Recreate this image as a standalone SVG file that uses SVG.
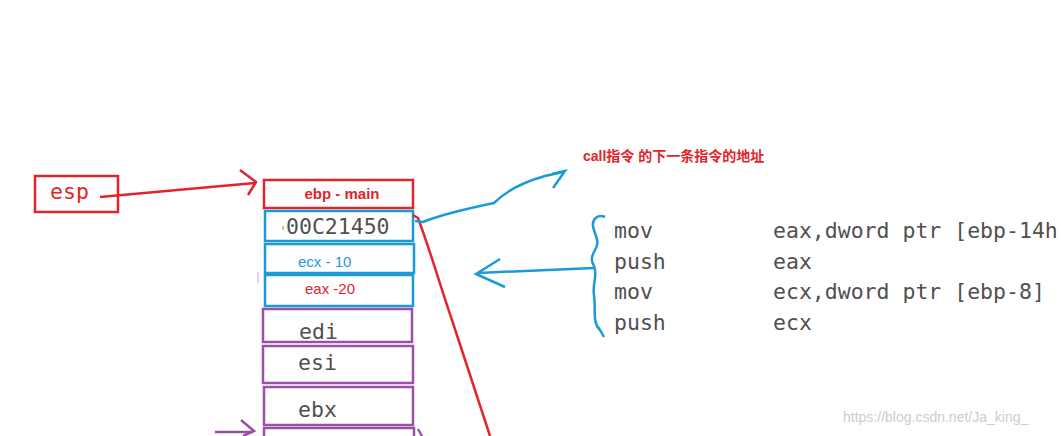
<svg xmlns="http://www.w3.org/2000/svg" width="1061" height="436" viewBox="0 0 1061 436">
<style>
.red{fill:none;stroke:#e3242b;stroke-width:2.5}
.blue{fill:none;stroke:#1b9ad8;stroke-width:2.5}
.pur{fill:none;stroke:#9a4fa9;stroke-width:2.5}
.mono{font-family:"DejaVu Sans Mono","Liberation Mono",monospace;font-size:21.5px;fill:#505050}
.sans{font-family:"Liberation Sans","Noto Sans CJK SC",sans-serif;font-size:15px}
</style>
<rect width="1061" height="436" fill="#ffffff"/>
<g id="esp">
<rect class="red" x="35" y="176" width="83" height="36"/>
<text class="mono" x="50" y="199" style="fill:#e3242b">esp</text>
</g>
<g id="ebp-main">
<rect class="red" x="264" y="180" width="149" height="28"/>
<text class="sans" x="342" y="199" text-anchor="middle" style="fill:#e3242b;font-weight:bold">ebp - main</text>
</g>
<g id="ret-addr">
<rect class="blue" x="265" y="211" width="148" height="30"/>
<text class="mono" x="286" y="234">00C21450</text>
<line x1="283" y1="226" x2="283" y2="230" stroke="#888" stroke-width="1"/>
</g>
<g id="ecx">
<rect class="blue" x="265" y="244" width="149" height="29"/>
<text class="sans" x="298" y="267" style="fill:#1b9ad8">ecx - 10</text>
</g>
<g id="eax">
<rect class="blue" x="265" y="275" width="148" height="31"/>
<text class="sans" x="305" y="294" style="fill:#e3242b">eax -20</text>
</g>
<g id="edi">
<rect class="pur" x="263" y="309" width="149" height="33"/>
<text class="mono" x="299" y="339">edi</text>
</g>
<g id="esi">
<rect class="pur" x="263" y="346" width="150" height="37"/>
<text class="mono" x="298" y="370">esi</text>
</g>
<g id="ebx">
<rect class="pur" x="264" y="387" width="149" height="38"/>
<text class="mono" x="298" y="417">ebx</text>
</g>
<g id="next">
<rect class="pur" x="264" y="428" width="150" height="20"/>
</g>
<g id="call-label">
<text class="sans" x="583" y="161" style="fill:#e3242b;font-weight:bold;font-size:14px">call指令 的下一条指令的地址</text>
</g>
<g id="code">
<text class="mono" x="614" y="238">mov</text>
<text class="mono" x="614" y="269">push</text>
<text class="mono" x="614" y="299">mov</text>
<text class="mono" x="614" y="330">push</text>
<text class="mono" x="773" y="238">eax,dword ptr [ebp-14h</text>
<text class="mono" x="773" y="269">eax</text>
<text class="mono" x="773" y="299">ecx,dword ptr [ebp-8]</text>
<text class="mono" x="773" y="330">ecx</text>
</g>
<g id="connectors">
<path class="red" d="M100 197 L255 183"/>
<path class="red" d="M240 170 L256 182 L248 195"/>
<path class="red" d="M413 215 L418 218 C430 250 440 285 452 320 C465 360 478 400 490 436"/>
<path class="blue" d="M415 221 L423 222 C440 215 470 208 494 203 C505 192 520 183 545 176 L563 172"/>
<path class="blue" d="M552 174 L565 171 L553 188"/>
<path class="blue" d="M605 217 C598 214 592 219 593 226 C594 234 600 240 596 248 C592 255 590 260 594 266 C598 275 592 285 594 295 C596 310 592 322 600 330 L604 337"/>
<path class="blue" d="M594 268 L478 273"/>
<path class="blue" d="M500 259 L476 274 L505 287"/>
<path class="pur" d="M215 432 L253 432"/>
<path class="pur" d="M241 420 L254 431 L243 436"/>
<path class="pur" d="M418 429 L422 436"/>
<line x1="258" y1="272" x2="258" y2="283" stroke="#c9a9d0" stroke-width="1"/>
</g>
<text x="843" y="422" style="font-family:'Liberation Sans',sans-serif;font-size:14px;fill:#cccccc">https://blog.csdn.net/Ja_king_</text>
</svg>
